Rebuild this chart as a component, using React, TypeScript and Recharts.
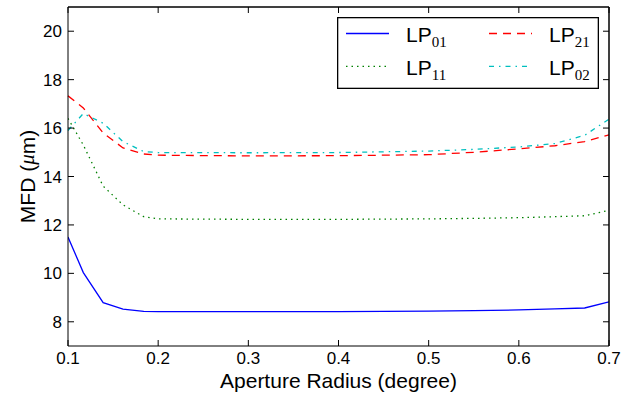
import { LineChart, Line, XAxis, YAxis } from 'recharts';

// aperture radius (degree)
const radius = [0.1, 0.117, 0.139, 0.161, 0.184, 0.2, 0.3, 0.4, 0.5, 0.55, 0.6, 0.64, 0.673, 0.7];
// MFD (um) per mode
const lp01 = [11.5, 10.03, 8.79, 8.52, 8.43, 8.42, 8.42, 8.42, 8.44, 8.46, 8.49, 8.53, 8.57, 8.82];
const lp11 = [16.4, 15.3, 13.6, 12.83, 12.34, 12.25, 12.23, 12.23, 12.25, 12.27, 12.3, 12.34, 12.38, 12.6];
const lp21 = [17.33, 16.83, 15.8, 15.18, 14.93, 14.88, 14.85, 14.86, 14.9, 15.0, 15.14, 15.27, 15.44, 15.72];
const lp02 = [15.9, 16.6, 16.2, 15.44, 15.03, 14.99, 14.98, 14.99, 15.05, 15.12, 15.22, 15.36, 15.7, 16.37];

const xTicks = [0.1, 0.2, 0.3, 0.4, 0.5, 0.6, 0.7];
const yTicks = [8, 10, 12, 14, 16, 18, 20];

// top/right axes share the same fixed domain; two series hang off them so they get drawn
const series = [
  { key: 'lp01', sub: '01', color: '#0000ff', dash: undefined, xa: 'b', ya: 'l' },
  { key: 'lp11', sub: '11', color: '#008000', dash: '1.5 4', xa: 'b', ya: 'l' },
  { key: 'lp21', sub: '21', color: '#ff0000', dash: '8 6', xa: 't', ya: 'r' },
  { key: 'lp02', sub: '02', color: '#00bfbf', dash: '5 5 1.5 5', xa: 't', ya: 'r' },
];

const data = radius.map((r, i) => ({ r, lp01: lp01[i], lp11: lp11[i], lp21: lp21[i], lp02: lp02[i] }));

const sans = '"Liberation Sans", Arial, sans-serif';
const serif = '"Liberation Serif", "DejaVu Serif", serif';

// chart layout
const W = 633;
const H = 399;
const margin = { top: 1, right: 18, bottom: 8, left: 8 };
const topH = 6;
const rightW = 6;
const bottomH = 45;
const leftW = 60;
const box = {
  left: margin.left + leftW,
  top: margin.top + topH,
  right: W - margin.right - rightW,
  bottom: H - margin.bottom - bottomH,
};

function LegendBox() {
  return (
    <svg width={262} height={72} style={{ display: 'block', position: 'absolute', left: 337, top: 17 }}>
      <rect x={0.65} y={0.65} width={260.7} height={70.7} fill="#fff" stroke="#000" strokeWidth={1.3} />
      {series.map((s, i) => {
        const col = Math.floor(i / 2);
        const row = i % 2;
        const x0 = 9 + col * 143;
        const y0 = 16.5 + row * 32.8;
        return (
          <g key={s.key}>
            <line x1={x0} y1={y0} x2={x0 + 43} y2={y0} stroke={s.color} strokeWidth={1.3} strokeDasharray={s.dash} />
            <text x={x0 + 60} y={y0 + 8.5} fontFamily={sans} fontSize={21} fill="#000">
              LP<tspan fontFamily={serif} fontSize={15} dy={5}>{s.sub}</tspan>
            </text>
          </g>
        );
      })}
    </svg>
  );
}

// top and right spines of the axes box
function Frame() {
  return (
    <svg width={W} height={H} style={{ position: 'absolute', left: 0, top: 0, pointerEvents: 'none' }}>
      <path d={`M${box.left},${box.top}H${box.right}V${box.bottom}`} fill="none" stroke="#000" strokeWidth={1} />
    </svg>
  );
}

function YTitle(props: any) {
  const vb = props.viewBox;
  const cx = 27;
  const cy = vb.y + vb.height / 2;
  return (
    <text x={cx} y={cy} transform={`rotate(-90 ${cx} ${cy})`} textAnchor="middle" dominantBaseline="central" fontFamily={sans} fontSize={21} fill="#000">
      MFD (<tspan fontFamily={serif} fontStyle="italic">μ</tspan>m)
    </text>
  );
}

function XTitle(props: any) {
  const vb = props.viewBox;
  return (
    <text x={vb.x + vb.width / 2} y={388} textAnchor="middle" fontFamily={sans} fontSize={21} fill="#000">
      Aperture Radius (degree)
    </text>
  );
}

export default function App() {
  const tickStyle = { fill: '#000', fontSize: 17, fontFamily: sans };
  return (
    <div style={{ position: 'absolute', left: 0, top: 0, width: W, height: H, background: '#fff' }}>
      <LineChart width={W} height={H} data={data} margin={margin}>
        <XAxis xAxisId="b" dataKey="r" type="number" domain={[0.1, 0.7]} ticks={xTicks} allowDataOverflow
          tickFormatter={(v: number) => v.toFixed(1)} tickSize={-6} tickMargin={12} height={bottomH}
          stroke="#000" tick={tickStyle} label={{ content: XTitle }} />
        <XAxis xAxisId="t" orientation="top" dataKey="r" type="number" domain={[0.1, 0.7]} ticks={[0.1, 0.2, 0.3, 0.4, 0.5, 0.6, 0.7]}
          tickFormatter={() => ''} tickSize={-6} height={topH} stroke="#000" />
        <YAxis yAxisId="l" type="number" domain={[7, 21]} ticks={yTicks} allowDataOverflow
          tickSize={-6} tickMargin={12} width={leftW} stroke="#000" tick={tickStyle} label={{ content: YTitle }} />
        <YAxis yAxisId="r" orientation="right" type="number" domain={[7, 21]} ticks={[8, 10, 12, 14, 16, 18, 20]}
          tickFormatter={() => ''} tickSize={-6} width={rightW} stroke="#000" />
        {series.map((s) => (
          <Line key={s.key} xAxisId={s.xa} yAxisId={s.ya} dataKey={s.key} type="linear" stroke={s.color}
            strokeWidth={1.3} strokeDasharray={s.dash} dot={false} activeDot={false} isAnimationActive={false} />
        ))}
      </LineChart>
      <Frame />
      <LegendBox />
    </div>
  );
}
